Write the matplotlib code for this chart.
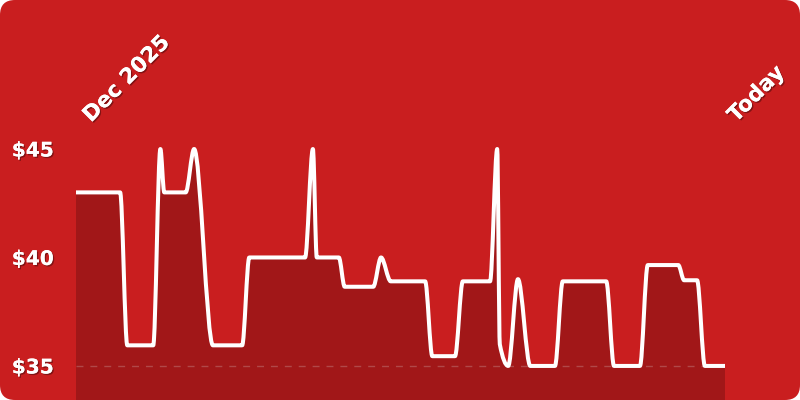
import numpy as np
import matplotlib
matplotlib.use("Agg")
import matplotlib.pyplot as plt
import matplotlib.patheffects as pe
import matplotlib.transforms as mtransforms
from matplotlib.path import Path
from matplotlib.patches import PathPatch, FancyBboxPatch

# price history, x = days since start of Dec 2025
days = [0, 6.8, 7.9, 11.9, 13.0, 13.6, 16.9, 18.2, 21.1, 25.6, 26.7, 35.3, 36.5, 37.1,
        40.5, 41.4, 45.8, 47.0, 48.5, 53.8, 54.9, 58.4, 59.6, 63.8, 64.9, 65.3, 66.6,
        68.1, 70.0, 73.8, 75.0, 81.7, 82.9, 86.9, 88.1, 92.8, 93.7, 95.7, 96.9, 100]
prices = [43, 43, 35.95, 35.95, 45, 43, 43, 45, 35.95, 35.95, 40, 40, 45, 40,
          40, 38.65, 38.65, 40, 38.9, 38.9, 35.45, 35.45, 38.9, 38.9, 45, 36, 35,
          39, 35, 35, 38.9, 38.9, 35, 35, 39.65, 39.65, 38.95, 38.95, 35, 35]

y_ticks = [35, 40, 45]
y_labels = ["$35", "$40", "$45"]
x_ticks = [0, 100]
x_labels = ["Dec 2025", "Today"]

BG = "#c91e1f"
FILL = "#a11718"


def monotone_path(x, y, close_to=None):
    # monotone cubic (like d3 curveMonotoneX) as bezier path
    x = np.asarray(x, float)
    y = np.asarray(y, float)
    n = len(x)
    h = np.diff(x)
    s = np.diff(y) / h
    t = np.zeros(n)
    for i in range(1, n - 1):
        p = (s[i - 1] * h[i] + s[i] * h[i - 1]) / (h[i - 1] + h[i])
        t[i] = (np.sign(s[i - 1]) + np.sign(s[i])) * min(abs(s[i - 1]), abs(s[i]), 0.5 * abs(p))
    t[0] = (3 * s[0] - t[1]) / 2
    t[-1] = (3 * s[-1] - t[-2]) / 2
    verts = [(x[0], y[0])]
    codes = [Path.MOVETO]
    for i in range(n - 1):
        d = h[i] / 3
        verts += [(x[i] + d, y[i] + d * t[i]), (x[i + 1] - d, y[i + 1] - d * t[i + 1]), (x[i + 1], y[i + 1])]
        codes += [Path.CURVE4] * 3
    if close_to is not None:
        verts += [(x[-1], close_to), (x[0], close_to), (x[0], y[0])]
        codes += [Path.LINETO, Path.LINETO, Path.CLOSEPOLY]
    return Path(verts, codes)


fig = plt.figure(figsize=(8, 4), dpi=100)
fig.patch.set_facecolor("white")
fig.patches.append(FancyBboxPatch((0, 0), 8, 4, boxstyle="round,pad=0,rounding_size=0.15",
                                  transform=fig.dpi_scale_trans, facecolor=BG, edgecolor="none",
                                  zorder=-10))

ax = fig.add_axes([76 / 800, 0, 649 / 800, 270 / 400])
ax.set_facecolor("none")
ymin, ymax = 33.43, 45.876
ax.set_xlim(0, 100)
ax.set_ylim(ymin, ymax)

ax.add_patch(PathPatch(monotone_path(days, prices, close_to=ymin), facecolor=FILL, edgecolor="none", zorder=1))
ax.axhline(35, color="#b04848", lw=1, ls=(0, (5, 5)), zorder=2)
ax.add_patch(PathPatch(monotone_path(days, prices), facecolor="none", edgecolor="white",
                       lw=2.9, capstyle="butt", joinstyle="round", zorder=3))

for sp in ax.spines.values():
    sp.set_visible(False)

shadow = [pe.withSimplePatchShadow(offset=(1, -1), shadow_rgbFace="black", alpha=0.35), pe.Normal()]

ax.set_yticks(y_ticks)
ax.set_yticklabels(y_labels)
ax.tick_params(axis="y", length=0, pad=16, labelsize=14.5, labelcolor="white")
ax.set_xticks([])
for lab in ax.get_yticklabels():
    lab.set_fontweight("bold")
    lab.set_path_effects(shadow)

# date labels above the plot, rotated
blend = mtransforms.blended_transform_factory(ax.transData, ax.transAxes)
for xv, lab, dx in zip(x_ticks, x_labels, [15, 11]):
    tr = mtransforms.offset_copy(blend, fig=fig, x=dx, y=7, units="dots")
    ax.text(xv, 1, lab, transform=tr, rotation=45, rotation_mode="anchor",
            ha="left", va="baseline", fontsize=15.5, fontweight="bold", color="white",
            path_effects=shadow, clip_on=False)

fig.savefig("out.png", dpi=100, facecolor=fig.get_facecolor())
